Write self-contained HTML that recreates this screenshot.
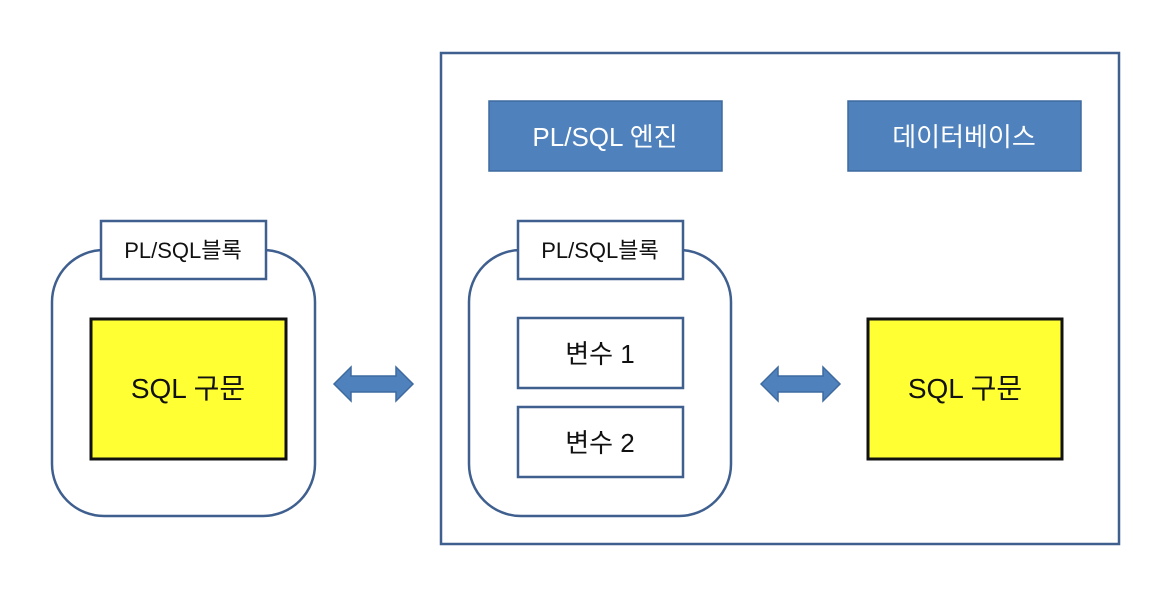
<!DOCTYPE html>
<html><head><meta charset="utf-8"><style>
html,body{margin:0;padding:0;background:#fff;width:1168px;height:598px;overflow:hidden}
text{font-family:"Liberation Sans","Noto Sans CJK KR",sans-serif}
</style></head><body>
<svg width="1168" height="598" viewBox="0 0 1168 598" xmlns="http://www.w3.org/2000/svg">
<g stroke="#3f5f8f" stroke-width="2.5" fill="none">
<rect x="441" y="53" width="678" height="491"/>
<rect x="52" y="250" width="263" height="266" rx="52"/>
<rect x="469" y="250" width="262" height="266" rx="52"/>
</g>
<g fill="#4f81bd" stroke="#3f6a9f" stroke-width="1.5">
<rect x="489" y="101" width="233" height="70"/>
<rect x="848" y="101" width="233" height="70"/>
</g>
<g font-size="26" fill="#fff" text-anchor="middle">
<text x="605" y="146">PL/SQL 엔진</text>
<text x="964" y="146">데이터베이스</text>
</g>
<g fill="#fff" stroke="#3f5f8f" stroke-width="2.5">
<rect x="101" y="221" width="165" height="58"/>
<rect x="518" y="221" width="165" height="58"/>
<rect x="518" y="318" width="165" height="70"/>
<rect x="518" y="407" width="165" height="70"/>
</g>
<g font-size="22" fill="#111" text-anchor="middle">
<text x="183" y="258">PL/SQL블록</text>
<text x="600" y="258">PL/SQL블록</text>
</g>
<g font-size="26" fill="#111" text-anchor="middle">
<text x="600" y="363">변수 1</text>
<text x="600" y="452">변수 2</text>
</g>
<g fill="#ffff33" stroke="#111" stroke-width="3">
<rect x="91" y="319" width="195" height="140"/>
<rect x="868" y="319" width="194" height="140"/>
</g>
<g font-size="28" fill="#111" text-anchor="middle">
<text x="188" y="398">SQL 구문</text>
<text x="965" y="398">SQL 구문</text>
</g>
<g fill="#4f81bd" stroke="#3f6a9f" stroke-width="1.5">
<polygon points="334,384 351,367 351,376 396,376 396,367 413,384 396,401 396,392 351,392 351,401"/>
<polygon points="761,384 778,367 778,376 823,376 823,367 840,384 823,401 823,392 778,392 778,401"/>
</g>
</svg>
</body></html>
